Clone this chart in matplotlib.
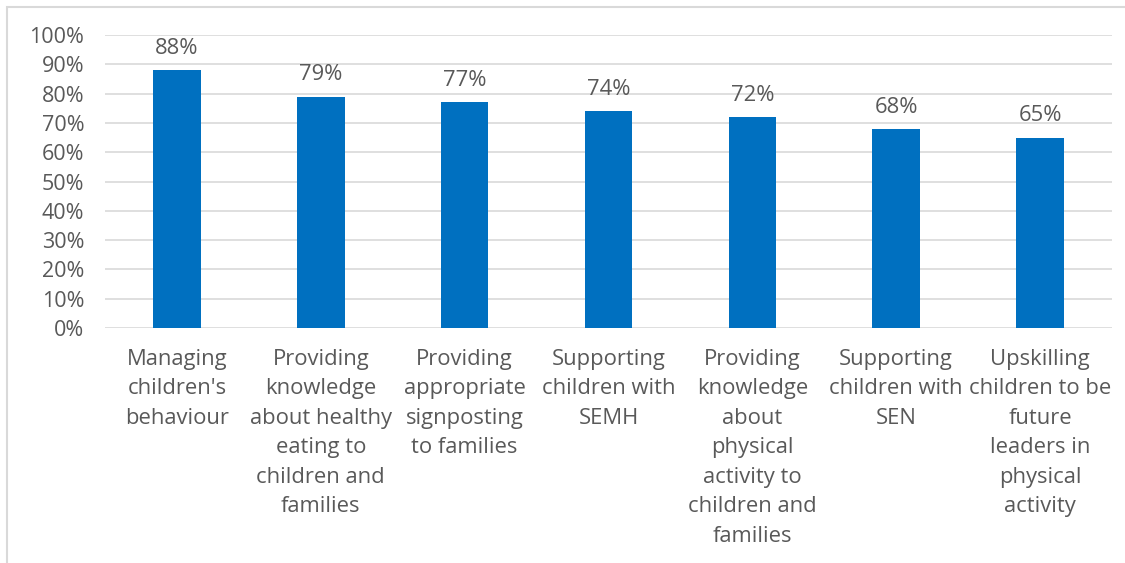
import matplotlib
matplotlib.use("Agg")
import matplotlib.pyplot as plt
from matplotlib.patches import Rectangle
from matplotlib.ticker import PercentFormatter, MultipleLocator

categories = [
    "Managing\nchildren's\nbehaviour",
    "Providing\nknowledge\nabout healthy\neating to\nchildren and\nfamilies",
    "Providing\nappropriate\nsignposting\nto families",
    "Supporting\nchildren with\nSEMH",
    "Providing\nknowledge\nabout\nphysical\nactivity to\nchildren and\nfamilies",
    "Supporting\nchildren with\nSEN",
    "Upskilling\nchildren to be\nfuture\nleaders in\nphysical\nactivity",
]
values = [88, 79, 77, 74, 72, 68, 65]

bar_color = "#0070C0"
text_color = "#595959"
grid_color = "#D9D9D9"

plt.rcParams["font.family"] = ["Open Sans", "DejaVu Sans"]

fig = plt.figure(figsize=(11.25, 5.63), dpi=100)
ax = fig.add_axes([105 / 1125, 1 - 328 / 563, (1112 - 105) / 1125, (328 - 35) / 563])

x = range(len(categories))
bars = ax.bar(x, values, width=0.33, color=bar_color, zorder=3)

ax.set_xlim(-0.5, len(categories) - 0.5)
ax.set_ylim(0, 100)
ax.yaxis.set_major_locator(MultipleLocator(10))
ax.yaxis.set_major_formatter(PercentFormatter(decimals=0))
ax.grid(axis="y", color=grid_color, linewidth=1.2, zorder=0)
for s in ax.spines.values():
    s.set_visible(False)
ax.tick_params(axis="both", length=0, colors=text_color)
ax.tick_params(axis="y", pad=15, labelsize=15.5)

ax.set_xticks(list(x))
ax.set_xticklabels(categories, fontsize=15.8, color=text_color, linespacing=1.53)
ax.tick_params(axis="x", pad=15)

for xi, v in zip(x, values):
    ax.annotate(f"{v}%", (xi, v), xytext=(0, 8), textcoords="offset points",
                ha="center", va="bottom", fontsize=15.8, color=text_color)

# Light chart frame
fig.patches.append(Rectangle((7 / 1125, -0.1), 1.2, 1 - 7 / 563 + 0.1,
                             transform=fig.transFigure, fill=False,
                             edgecolor=grid_color, linewidth=1.5))

fig.savefig("out.png", dpi=100, facecolor="white")
